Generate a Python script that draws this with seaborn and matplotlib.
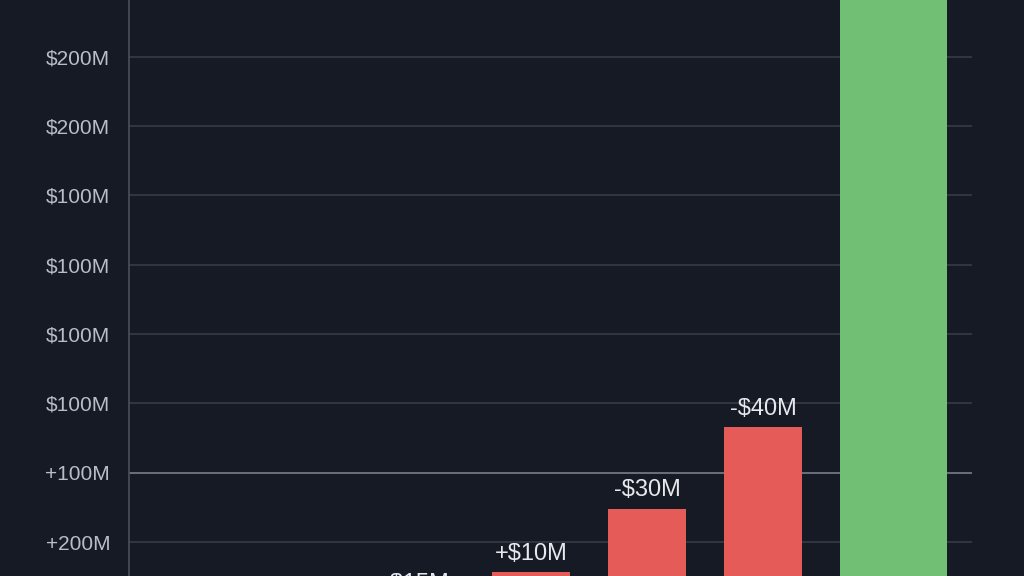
import matplotlib.pyplot as plt
import numpy as np
import pandas as pd
import seaborn as sns

# waterfall steps (only the upper part of the chart is in view)
steps = ["Step A", "Step B", "Step C", "Step D", "Total"]
step_tops = [2.7, 11.4, 29.6, 53.2, 230.0]
step_labels = ["-$15M", "+$10M", "-$30M", "-$40M", ""]
kinds = ["down", "down", "down", "down", "total"]

tick_values = [160, 140, 120, 100, 80, 60, 40, 20]
tick_labels = ["$200M", "$200M", "$100M", "$100M", "$100M", "$100M", "+100M", "+200M"]

bg = "#151a25"
sns.set_theme(style="dark")
plt.rcParams["font.family"] = ["Liberation Sans", "DejaVu Sans"]

df = pd.DataFrame({"step": steps, "top": step_tops, "kind": kinds, "label": step_labels})

fig = plt.figure(figsize=(10.24, 5.76), dpi=100, facecolor=bg)
ax = fig.add_axes([129 / 1024, 0, (972 - 129) / 1024, 1])
ax.set_facecolor(bg)

red = df[df["kind"] == "down"]
green = df[df["kind"] == "total"]
sns.barplot(data=red, x="step", y="top", order=steps, color="#e55b58",
            width=0.67, saturation=1, linewidth=0, ax=ax, zorder=3)
sns.barplot(data=green, x="step", y="top", order=steps, color="#70bf75",
            width=0.92, saturation=1, linewidth=0, ax=ax, zorder=3)
# the total bar sits slightly right of its slot in the reference
ax.patches[-1].set_x(ax.patches[-1].get_x() + 0.125)

for i, row in red.reset_index(drop=True).iterrows():
    ax.annotate(row["label"], (i, row["top"]), xytext=(0, 13.2),
                textcoords="offset points", ha="center", va="center",
                color="#e6e8ec", fontsize=17, annotation_clip=False)

ax.set_xlim(-2.466, 4.802)
ax.set_ylim(10.2, 176.4)
ax.set_yticks(tick_values)
ax.set_yticklabels(tick_labels)
ax.tick_params(axis="y", length=0, pad=13.5, labelsize=15, labelcolor="#b9bdc6")
ax.set_xticks([])
ax.set_xlabel("")
ax.set_ylabel("")

ax.grid(axis="y", color="#363b47", linewidth=1.2, zorder=0)
ax.axhline(40, color="#6a6f7b", linewidth=1.4, zorder=1)
for s in ["top", "right", "bottom"]:
    ax.spines[s].set_visible(False)
ax.spines["left"].set_color("#4a505c")
ax.spines["left"].set_linewidth(1.2)

fig.savefig("out.png", dpi=100, facecolor=bg)
